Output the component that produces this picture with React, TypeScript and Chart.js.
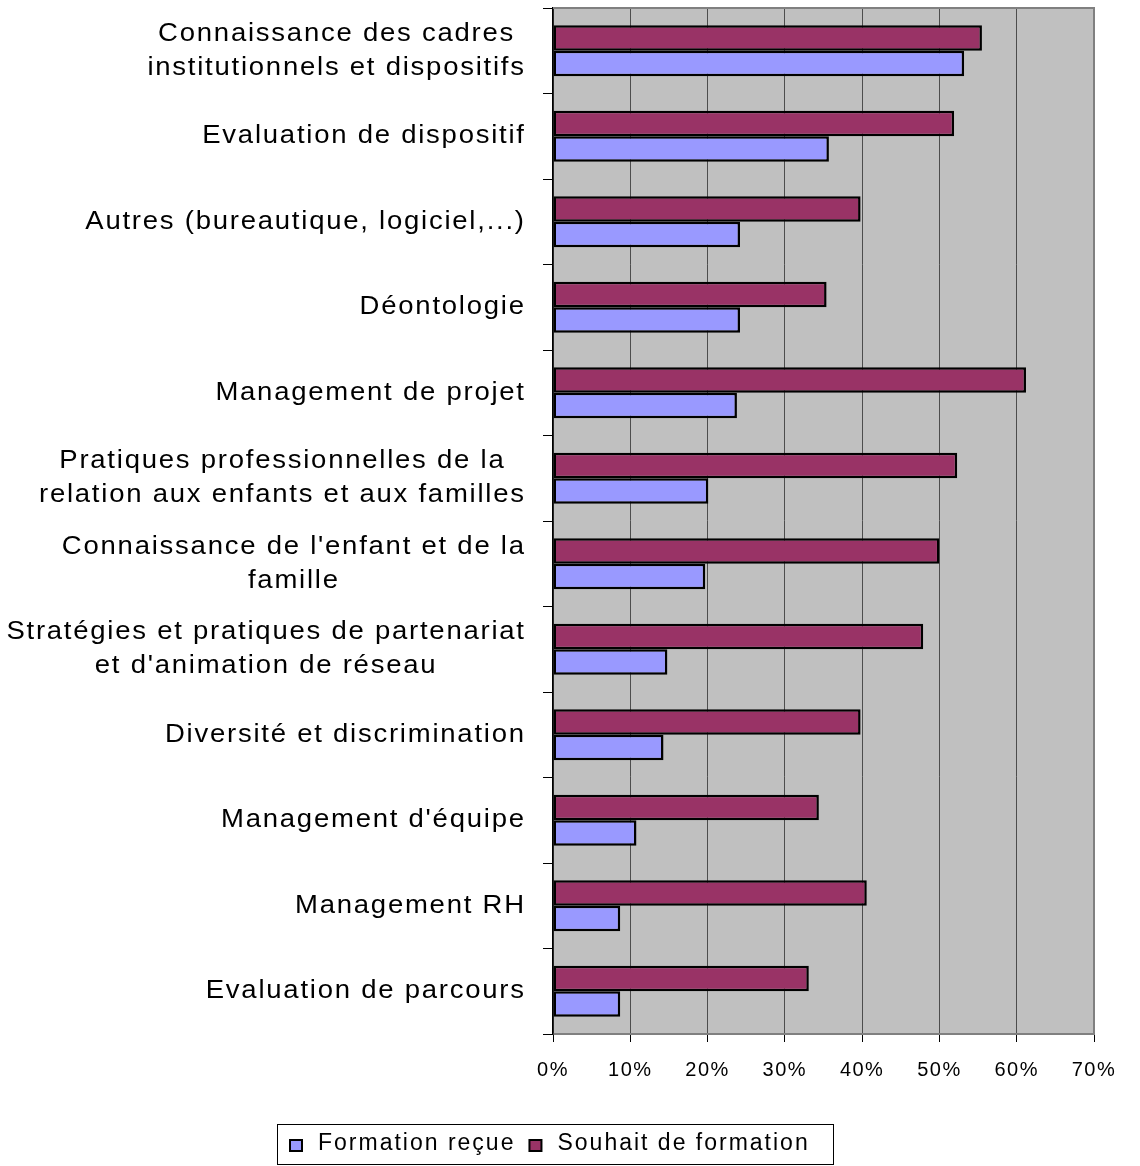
import React, { useEffect, useRef } from 'react';
import { Chart, registerables } from 'chart.js';

Chart.register(...registerables);

const FONT = '"Liberation Sans", Arial, Helvetica, sans-serif';

const categories: string[][] = [
  ['Connaissance des cadres', 'institutionnels et dispositifs'],
  ['Evaluation de dispositif'],
  ['Autres (bureautique, logiciel,...)'],
  ['Déontologie'],
  ['Management de projet'],
  ['Pratiques professionnelles de la', 'relation aux enfants et aux familles'],
  ["Connaissance de l'enfant et de la", 'famille'],
  ['Stratégies et pratiques de partenariat', "et d'animation de réseau"],
  ['Diversité et discrimination'],
  ["Management d'équipe"],
  ['Management RH'],
  ['Evaluation de parcours'],
];

const seriesNames = ['Formation reçue', 'Souhait de formation'];
const formationRecue = [53.2, 35.7, 24.2, 24.2, 23.8, 20.1, 19.7, 14.8, 14.3, 10.8, 8.7, 8.7];
const souhaitFormation = [55.5, 51.9, 39.8, 35.4, 61.2, 52.3, 50.0, 47.9, 39.8, 34.4, 40.6, 33.1];
const xTickValues = [0, 10, 20, 30, 40, 50, 60, 70];

const COLOR_RECUE = '#9999ff';
const COLOR_SOUHAIT = '#993366';

const Y_LS = 1.6;
const Y_SX = 1.1;
const LEG_LS = 2;

const bgPlugin = {
  id: 'plotBg',
  beforeDraw(chart: any) {
    const { ctx, chartArea: a } = chart;
    ctx.save();
    ctx.fillStyle = '#c0c0c0';
    ctx.fillRect(a.left, a.top, a.right - a.left, a.bottom - a.top);
    ctx.restore();
    (ctx as any).letterSpacing = '1.5px';
  },
  afterDraw(chart: any) {
    const { ctx, chartArea: a } = chart;
    ctx.save();
    ctx.strokeStyle = '#808080';
    ctx.lineWidth = 2;
    ctx.beginPath();
    ctx.moveTo(a.left, a.top);
    ctx.lineTo(a.right, a.top);
    ctx.lineTo(a.right, a.bottom);
    ctx.stroke();
    ctx.restore();
  },
};

const yLabelPlugin = {
  id: 'yLabels',
  afterDraw(chart: any) {
    const ctx = chart.ctx;
    const y = chart.scales.y;
    ctx.save();
    ctx.font = `25px ${FONT}`;
    ctx.fillStyle = '#000';
    ctx.textBaseline = 'middle';
    ctx.textAlign = 'left';
    (ctx as any).letterSpacing = Y_LS + 'px';
    const right = chart.chartArea.left - 29;
    const lh = 34;
    (chart.data.labels as any[]).forEach((lab, i) => {
      const lines: string[] = Array.isArray(lab) ? lab : [lab];
      const widths = lines.map((l) => (ctx.measureText(l).width - Y_LS) * Y_SX);
      const maxW = Math.max(...widths);
      const cx = right - maxW / 2;
      const cy = y.getPixelForTick(i);
      lines.forEach((l, j) => {
        const ly = cy + (j - (lines.length - 1) / 2) * lh;
        ctx.save();
        ctx.translate(cx - widths[j] / 2, ly);
        ctx.scale(Y_SX, 1);
        ctx.fillText(l, 0, 0);
        ctx.restore();
      });
    });
    ctx.restore();
  },
};

const legendPlugin = {
  id: 'boxLegend',
  afterDraw(chart: any) {
    const ctx = chart.ctx;
    ctx.save();
    ctx.strokeStyle = '#000';
    ctx.lineWidth = 1;
    ctx.strokeRect(277.5, 1124.5, 556, 40);
    ctx.font = `23px ${FONT}`;
    ctx.textBaseline = 'middle';
    ctx.textAlign = 'left';
    (ctx as any).letterSpacing = LEG_LS + 'px';
    const items = [...chart.data.datasets].reverse();
    let x = 290;
    const cy = 1145;
    items.forEach((ds: any) => {
      ctx.fillStyle = ds.backgroundColor;
      ctx.fillRect(x, cy - 5, 12, 11);
      ctx.strokeStyle = '#000';
      ctx.lineWidth = 2;
      ctx.strokeRect(x, cy - 5, 12, 11);
      ctx.fillStyle = '#000';
      ctx.fillText(ds.label, x + 28, cy - 1);
      const w = ctx.measureText(ds.label).width - LEG_LS;
      x = x + 28 + w + 16;
    });
    ctx.restore();
  },
};

export default function App() {
  const ref = useRef<HTMLCanvasElement | null>(null);
  useEffect(() => {
    if (!ref.current) return;
    const chart = new Chart(ref.current, {
      type: 'bar',
      data: {
        labels: categories,
        datasets: [
          {
            label: seriesNames[1],
            data: souhaitFormation,
            backgroundColor: COLOR_SOUHAIT,
            borderColor: '#000',
            borderWidth: 2.5,
            borderSkipped: false,
            categoryPercentage: 0.595,
            barPercentage: 1,
          },
          {
            label: seriesNames[0],
            data: formationRecue,
            backgroundColor: COLOR_RECUE,
            borderColor: '#000',
            borderWidth: 2.5,
            borderSkipped: false,
            categoryPercentage: 0.595,
            barPercentage: 1,
          },
        ],
      },
      options: {
        indexAxis: 'y',
        responsive: false,
        animation: false,
        layout: { padding: { top: 8, right: 46, bottom: 0, left: 0 } },
        plugins: {
          legend: { display: false },
          tooltip: { enabled: false },
        },
        scales: {
          x: {
            type: 'linear',
            min: xTickValues[0],
            max: xTickValues[xTickValues.length - 1],
            afterBuildTicks: (s: any) => {
              s.ticks = xTickValues.map((v) => ({ value: v }));
            },
            ticks: {
              callback: (v: any) => v + '%',
              color: '#000',
              font: { size: 20, family: FONT },
              padding: 16,
              maxRotation: 0,
            },
            grid: {
              color: '#4d4d4d',
              lineWidth: 1,
              drawTicks: true,
              tickLength: 8,
              tickColor: '#000',
            },
            border: { display: true, color: '#808080', width: 2 },
            afterFit: (s: any) => {
              s.height = 132;
            },
          },
          y: {
            type: 'category',
            ticks: { display: false },
            grid: {
              display: true,
              drawOnChartArea: false,
              drawTicks: true,
              tickLength: 10,
              color: '#000',
              offset: true,
            },
            border: { display: true, color: '#000', width: 1.5 },
            afterFit: (s: any) => {
              s.width = 553;
            },
          },
        },
      } as any,
      plugins: [bgPlugin, yLabelPlugin, legendPlugin],
    });
    return () => chart.destroy();
  }, []);
  return (
    <div style={{ position: 'absolute', left: 0, top: 0, width: 1140, height: 1166 }}>
      <canvas ref={ref} width={1140} height={1166} style={{ display: 'block' }} />
    </div>
  );
}
